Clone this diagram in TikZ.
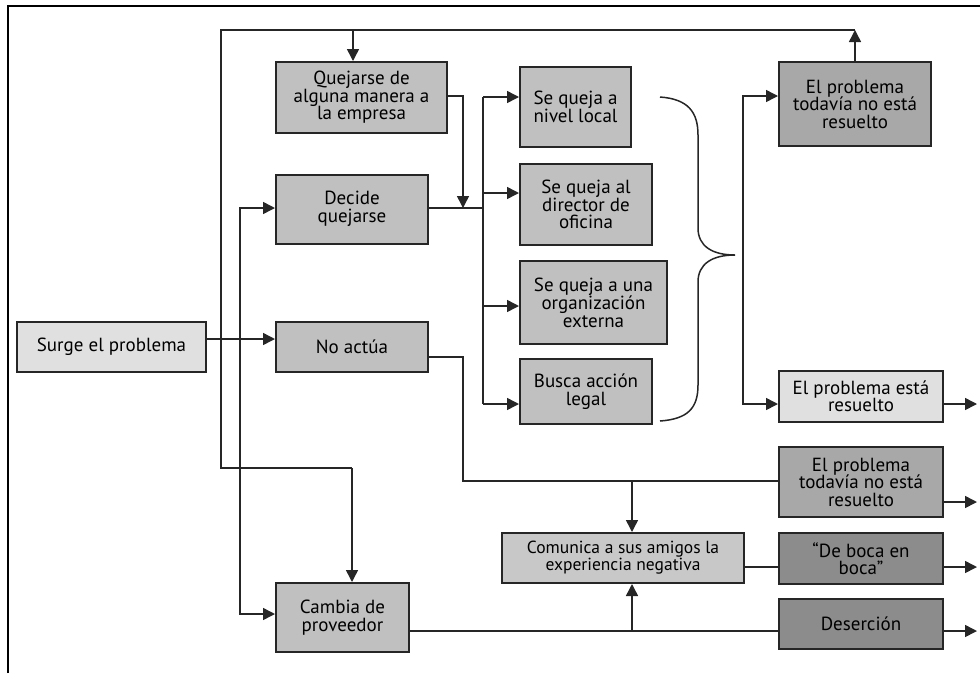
\documentclass[tikz,border=0pt]{standalone}
\usepackage{fontspec}
\setmainfont{PT Sans}
\usetikzlibrary{arrows.meta}
\definecolor{cLight}{HTML}{E0E0E0}
\definecolor{cMid}{HTML}{C0C0C0}
\definecolor{cCom}{HTML}{C8C8C8}
\definecolor{cDark}{HTML}{A8A8A8}
\definecolor{cDarker}{HTML}{8C8C8C}
\tikzset{
  box/.style={draw=black!85, line width=2pt, align=center, inner sep=0pt,
    font=\fontsize{19}{17.5}\selectfont, text=black},
  conn/.style={line width=1.5pt, draw=black!85},
  arr/.style={conn, -{Triangle[length=12pt,width=12pt]}},
}
\begin{document}
\begin{tikzpicture}[x=1pt,y=-1pt]
\useasboundingbox (0,0) rectangle (980,673);
% frame
\draw[line width=1.2pt] (8,673) -- (8,6) -- (980,6);
% nodes
\node[box, fill=cLight, minimum width=189, minimum height=50] (surge) at (111.5,347) {Surge el problema};
\node[box, fill=cMid, minimum width=171, minimum height=71] (quej) at (361.5,97.5) {Quejarse de\\alguna manera a\\la empresa};
\node[box, fill=cMid, minimum width=152, minimum height=69] (decide) at (352,209) {Decide\\quejarse};
\node[box, fill=cMid, minimum width=152, minimum height=50] (noact) at (352,347) {No actúa};
\node[box, fill=cMid, minimum width=133, minimum height=69] (cambia) at (342.5,617.5) {Cambia de\\proveedor};
\node[box, fill=cMid, minimum width=111, minimum height=80] (local) at (575.5,107) {Se queja a\\nivel local};
\node[box, fill=cMid, minimum width=132, minimum height=81] (director) at (586,204.5) {Se queja al\\director de\\oficina};
\node[box, fill=cMid, minimum width=147, minimum height=83] (org) at (593.5,302.5) {Se queja a una\\organización\\externa};
\node[box, fill=cMid, minimum width=132, minimum height=65] (legal) at (586,391.5) {Busca acción\\legal};
\node[box, fill=cDark, minimum width=152, minimum height=84] (ptop) at (855,104) {El problema\\todavía no está\\resuelto};
\node[box, fill=cLight, minimum width=164, minimum height=51] (resuelto) at (861,396.5) {El problema está\\resuelto};
\node[box, fill=cDark, minimum width=164, minimum height=70] (pbot) at (861,482) {El problema\\todavía no está\\resuelto};
\node[box, fill=cCom, minimum width=242, minimum height=50, font=\fontsize{17.5}{17}\selectfont] (comunica) at (623,558) {Comunica a sus amigos la\\experiencia negativa};
\node[box, fill=cDarker, minimum width=164, minimum height=51] (boca) at (861,558.5) {“De boca en\\boca”};
\node[box, fill=cDarker, minimum width=164, minimum height=50] (desercion) at (861,624) {Deserción};
% helper coordinates
\coordinate (yTop) at (0,30);
\coordinate (xA) at (221,0);
\coordinate (xB) at (240,0);
\coordinate (xQ) at (463,0);
\coordinate (xR) at (483,0);
\coordinate (xS) at (743,0);
\coordinate (xC) at (632,0);
\coordinate (xTop) at (353,0);
\coordinate (xCa) at (352,0);
\coordinate (xOut) at (977,0);
\coordinate (y96) at (0,96);
\coordinate (y97) at (0,97);
\coordinate (y193) at (0,193);
\coordinate (y306) at (0,306);
\coordinate (y404) at (0,404);
\coordinate (y339) at (0,339);
\coordinate (y357) at (0,357);
\coordinate (y468) at (0,468);
\coordinate (y481) at (0,481);
\coordinate (y502) at (0,502);
\coordinate (y567) at (0,567);
\coordinate (y614) at (0,614);
\coordinate (y631) at (0,631);
\coordinate (y208) at (0,208);
\coordinate (y255) at (0,255);
% Surge -> No actua, and branch rail
\draw[arr] (surge.east |- y339) -- (noact.west |- y339);
\coordinate (bJ) at (xB |- y339);
\draw[arr] (bJ) |- (decide.west |- y208);
\draw[arr] (bJ) |- (cambia.west |- y614);
% top loop
\draw[arr] (ptop.north) -- (ptop.north |- yTop);
\draw[conn] (ptop.north |- yTop) -- (xA |- yTop) -- (xA |- y468) -- (xCa |- y468);
\draw[arr] (xCa |- y468) -- (xCa |- cambia.north);
\draw[arr] (xTop |- yTop) -- (xTop |- quej.north);
% quejarse -> decide line
\draw[conn] (decide.east |- y208) -- (xR |- y208);
\draw[arr] (quej.east |- y96) -| (xQ |- y208);
% se queja rail
\draw[conn] (xR |- y97) -- (xR |- y404);
\draw[arr] (xR |- y97) -- (local.west |- y97);
\draw[arr] (xR |- y193) -- (director.west |- y193);
\draw[arr] (xR |- y306) -- (org.west |- y306);
\draw[arr] (xR |- y404) -- (legal.west |- y404);
% brace
\draw[conn] (660,97) .. controls (688,99) and (698,112) .. (698,135) -- (698,228)
  .. controls (698,246) and (712,255) .. (735,255)
  .. controls (712,255) and (698,264) .. (698,282) -- (698,385)
  .. controls (698,408) and (688,419) .. (660,421);
% result rail
\coordinate (sJ) at (xS |- y255);
\draw[arr] (sJ) |- (ptop.west |- y96);
\draw[arr] (sJ) |- (resuelto.west |- y404);
% outputs
\draw[arr] (resuelto.east |- y404) -- (xOut |- y404);
\draw[arr] (pbot.east |- y502) -- (xOut |- y502);
\draw[arr] (boca.east |- y567) -- (xOut |- y567);
\draw[arr] (desercion.east |- y631) -- (xOut |- y631);
% no actua path
\draw[conn] (noact.east |- y357) -| (xQ |- y481) -- (pbot.west |- y481);
\draw[arr] (xC |- y481) -- (xC |- comunica.north);
\draw[conn] (comunica.east |- y567) -- (boca.west |- y567);
\draw[conn] (cambia.east |- y631) -- (desercion.west |- y631);
\draw[arr] (xC |- y631) -- (xC |- comunica.south);
\end{tikzpicture}
\end{document}
